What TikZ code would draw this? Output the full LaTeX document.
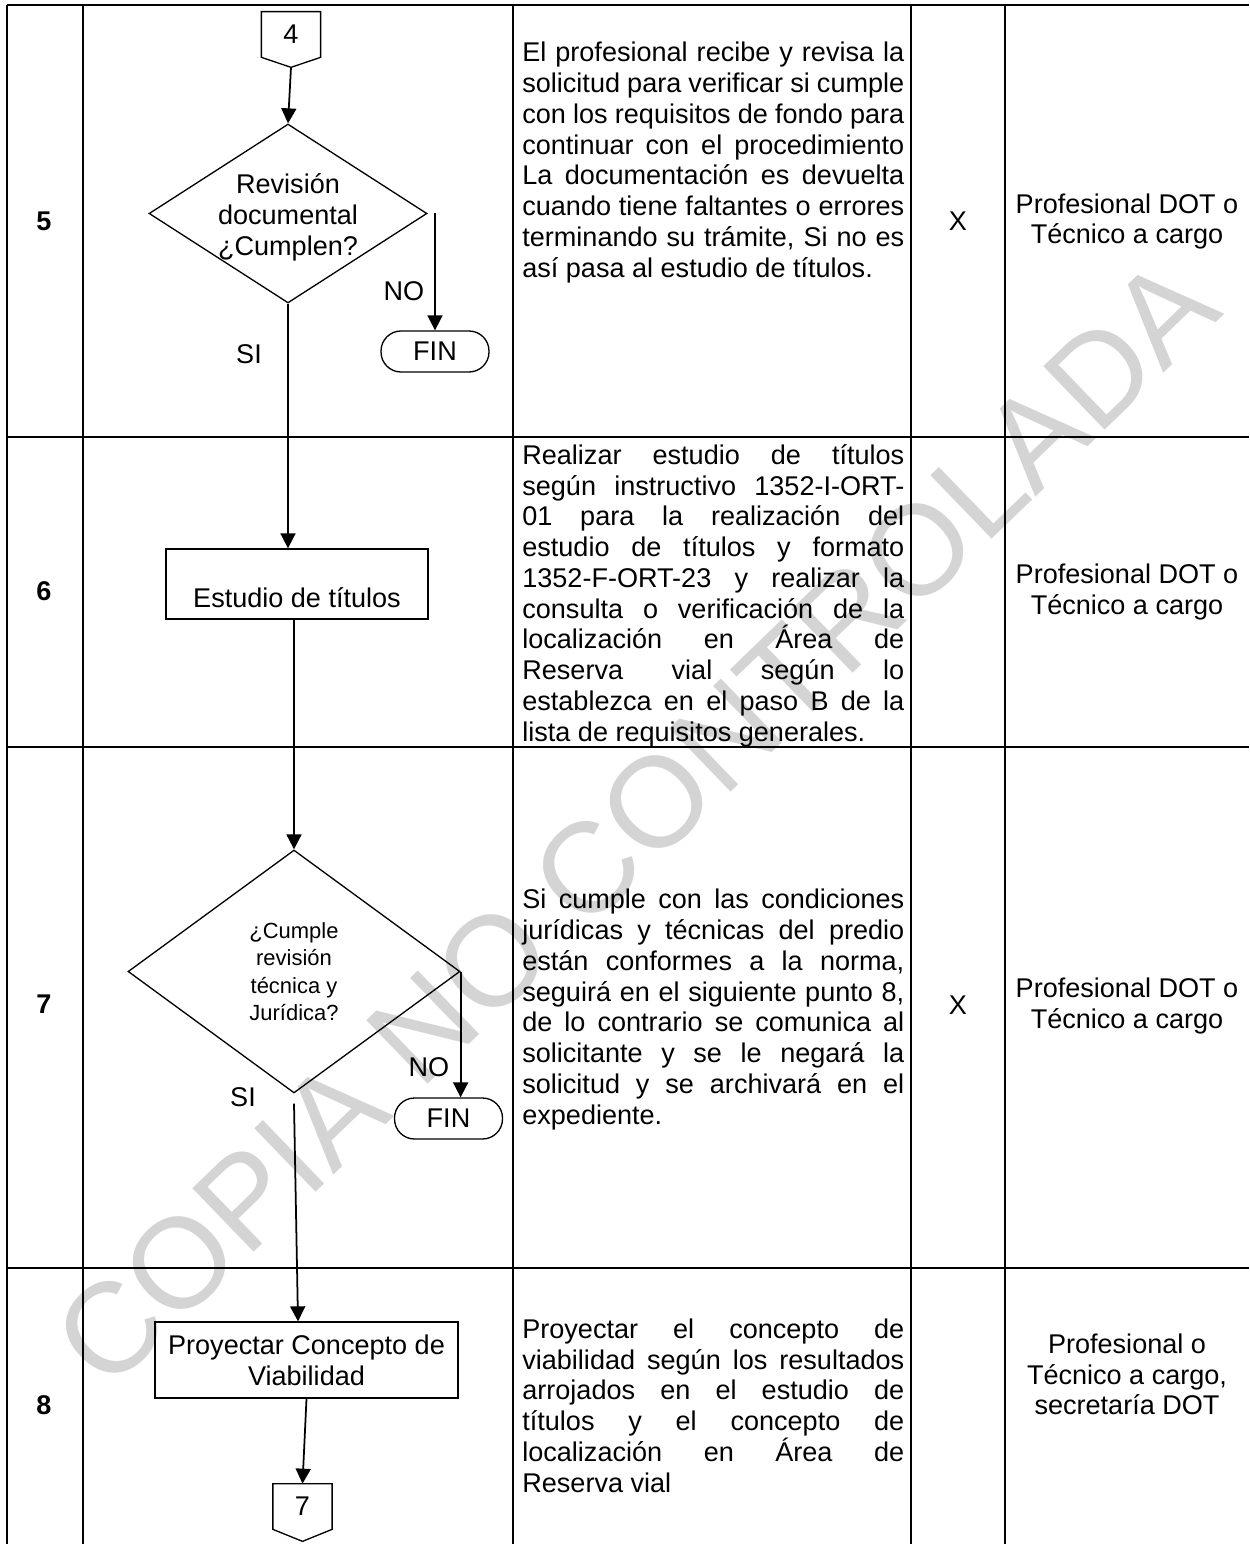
\documentclass[tikz,border=0pt]{standalone}
\usepackage{fontspec}
\setmainfont{Liberation Sans}
\usepackage{tikz}
\usetikzlibrary{shapes.geometric, arrows.meta}

% one justified line of the description column
\newcommand{\jl}[1]{\makebox[7.64cm][s]{#1}\\}

\begin{document}
\begin{tikzpicture}[x=0.02cm, y=-0.02cm,
    every node/.style={font=\fontsize{15.4}{17.5}\selectfont},
    tbl/.style={line width=0.97pt},
    decbox/.style={draw, diamond, line width=0.75pt, inner sep=0pt},
    procbox/.style={draw, rectangle, line width=0.75pt, inner sep=0pt},
    finbox/.style={draw, rectangle, rounded corners=0.4cm, line width=0.75pt, minimum width=2.16cm, minimum height=0.82cm, inner sep=0pt},
    offpage/.style={minimum width=1.17cm, minimum height=0.9cm, inner sep=0pt},
    arr/.style={-{Triangle[length=0.3cm,width=0.3cm]}, line width=1pt},
    stepnum/.style={font=\fontsize{15.4}{17.5}\selectfont\bfseries},
    desc/.style={anchor=base west, align=left, inner sep=0pt},
    resp/.style={align=center, inner sep=0pt}]
\useasboundingbox (0,0) rectangle (1249,1544);

% watermark
\node[rotate=44, text=black!17, font=\fontsize{73}{73}\selectfont] (wm) at (636,822) {COPIA NO CONTROLADA};

% table
\draw[tbl] (7,5) -- (1249,5);
\draw[tbl] (7,437) -- (1249,437);
\draw[tbl] (7,747) -- (1249,747);
\draw[tbl] (7,1268) -- (1249,1268);
\draw[tbl] (7,5) -- (7,1544);
\draw[tbl] (83,5) -- (83,1544);
\draw[tbl] (513,5) -- (513,1544);
\draw[tbl] (911,5) -- (911,1544);
\draw[tbl] (1005,5) -- (1005,1544);

% step numbers
\node[stepnum] (s5) at (44,221) {5};
\node[stepnum] (s6) at (44,591) {6};
\node[stepnum] (s7) at (44,1004) {7};
\node[stepnum] (s8) at (44,1405) {8};

% flowchart
\node[offpage] (c4) at (291,34.5) {4};
\coordinate (c4tip) at ([yshift=-0.2cm]c4.south);
\draw[line width=0.75pt] (c4.north west) -- (c4.north east) -- (c4.south east) -- (c4tip) -- (c4.south west) -- cycle;

\node[decbox, minimum width=5.56cm, minimum height=3.58cm,
    label={[align=center, yshift=-0.08cm]center:{Revisión\\documental\\¿Cumplen?}}] (d5) at (288,213.5) {};
\node[finbox] (fin5) at (435,351.5) {FIN};
\node (no5) at (404,291) {NO};
\node (si5) at (249,354) {SI};

\node[procbox, minimum width=5.24cm, minimum height=1.4cm,
    label={[yshift=-0.28cm]center:Estudio de títulos}] (est) at (297,584) {};

\node[decbox, minimum width=6.64cm, minimum height=4.86cm,
    label={[align=center, font=\fontsize{12.5}{15.6}\selectfont]center:{¿Cumple\\revisión\\técnica y\\Jurídica?}}] (d7) at (294,971.5) {};
\node[finbox] (fin7) at (448.5,1118.5) {FIN};
\node (no7) at (429,1067) {NO};
\node (si7) at (243,1097) {SI};

\node[procbox, minimum width=6.06cm, minimum height=1.52cm, align=center] (pcv) at (306.5,1360) {Proyectar Concepto de\\Viabilidad};

\node[offpage] (c7) at (302.5,1506.5) {7};
\coordinate (c7tip) at ([yshift=-0.24cm]c7.south);
\draw[line width=0.75pt] (c7.north west) -- (c7.north east) -- (c7.south east) -- (c7tip) -- (c7.south west) -- cycle;

\draw[arr] (c4tip) -- (d5.north);
\draw[arr] (d5.east -| fin5.north) -- (fin5.north);
\draw[arr] (d5.south) -- (d5.south |- est.north);
\draw[arr] (d7.north |- est.south) -- (d7.north);
\draw[arr] (d7.east) -- (d7.east |- fin7.north);
\draw[arr] ([yshift=-0.2cm]d7.south) -- ([xshift=-0.17cm]pcv.north);
\draw[arr] (pcv.south) -- (c7.north);

% descriptions (placed at the baseline of their last line)
\node[desc] (t5) at (522,277) {\jl{El profesional recibe y revisa la}
\jl{solicitud para verificar si cumple}
\jl{con los requisitos de fondo para}
\jl{continuar con el procedimiento}
\jl{La documentación es devuelta}
\jl{cuando tiene faltantes o errores}
\jl{terminando su trámite, Si no es}
así pasa al estudio de títulos.};

\node[desc] (t6) at (522,741) {\jl{Realizar estudio de títulos}
\jl{según instructivo 1352-I-ORT-}
\jl{01 para la realización del}
\jl{estudio de títulos y formato}
\jl{1352-F-ORT-23 y realizar la}
\jl{consulta o verificación de la}
\jl{localización en Área de}
\jl{Reserva vial según lo}
\jl{establezca en el paso B de la}
lista de requisitos generales.};

\node[desc] (t7) at (522,1124) {\jl{Si cumple con las condiciones}
\jl{jurídicas y técnicas del predio}
\jl{están conformes a la norma,}
\jl{seguirá en el siguiente punto 8,}
\jl{de lo contrario se comunica al}
\jl{solicitante y se le negará la}
\jl{solicitud y se archivará en el}
expediente.};

\node[desc] (t8) at (522,1492) {\jl{Proyectar el concepto de}
\jl{viabilidad según los resultados}
\jl{arrojados en el estudio de}
\jl{títulos y el concepto de}
\jl{localización en Área de}
Reserva vial};

% X marks
\node (x5) at (958,221) {X};
\node (x7) at (958,1005) {X};

% responsible
\node[resp] (r5) at (1127,221.5) {Profesional DOT o\\Técnico a cargo};
\node[resp] (r6) at (1127,592) {Profesional DOT o\\Técnico a cargo};
\node[resp] (r7) at (1127,1006) {Profesional DOT o\\Técnico a cargo};
\node[resp] (r8) at (1127,1374.5) {Profesional o\\Técnico a cargo,\\secretaría DOT};
\end{tikzpicture}
\end{document}
